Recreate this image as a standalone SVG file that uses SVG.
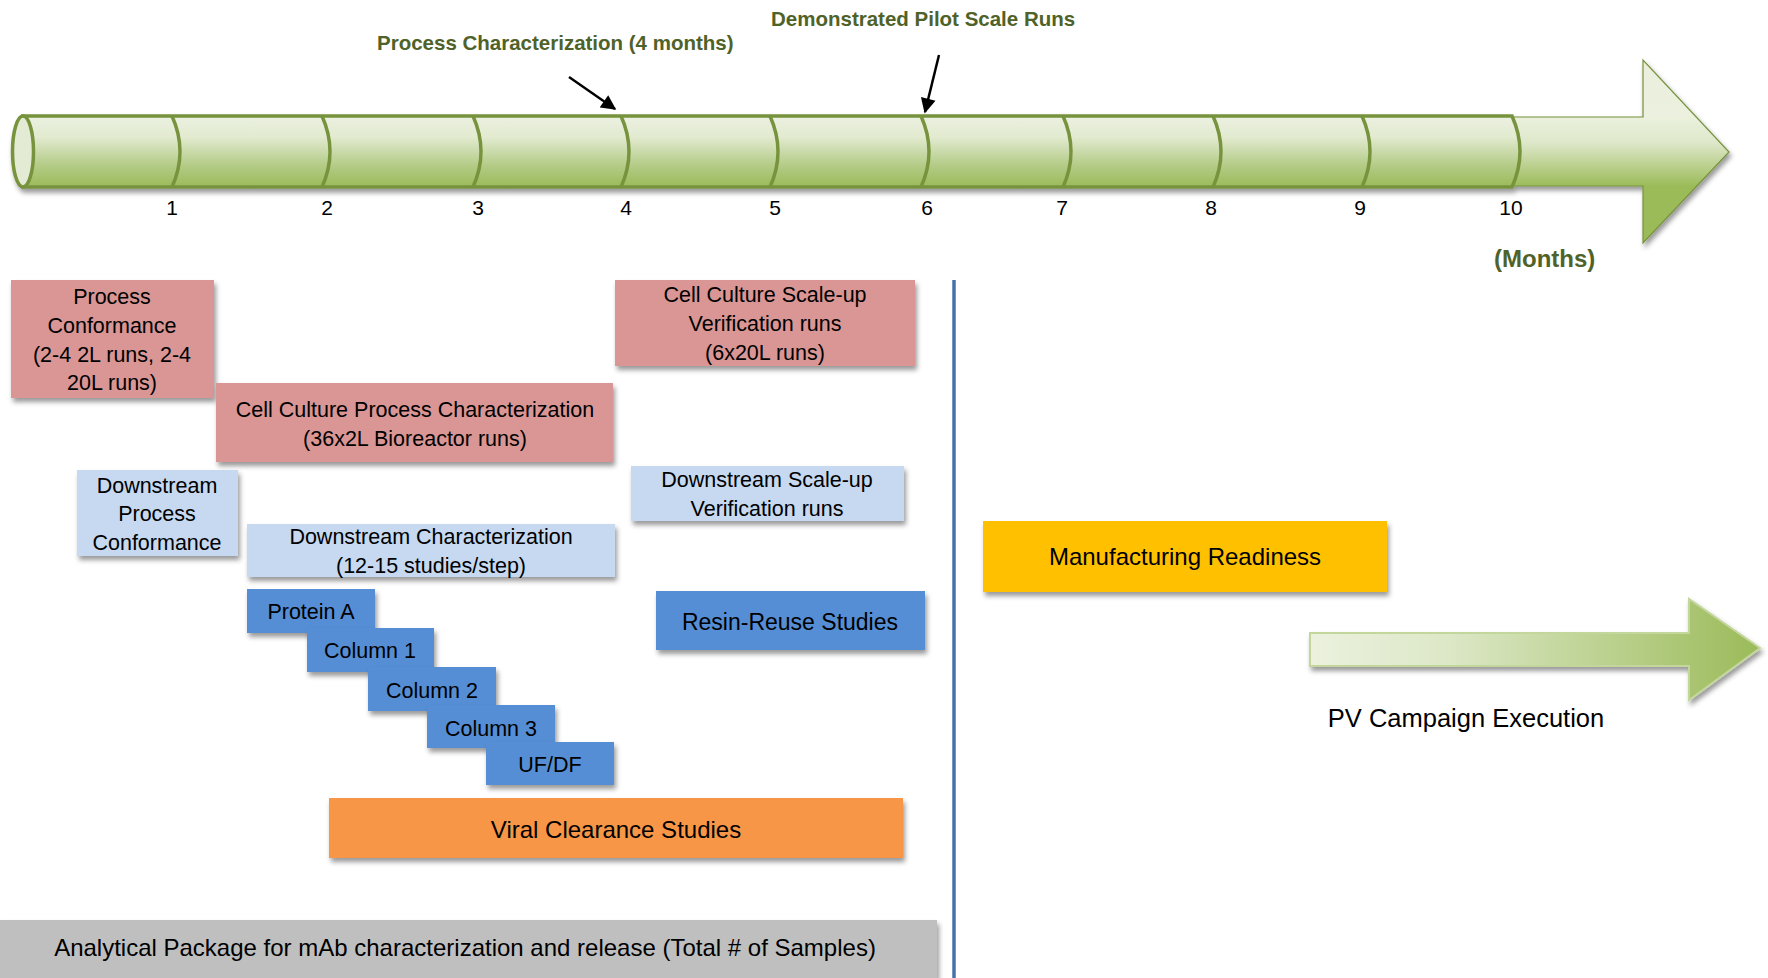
<svg xmlns="http://www.w3.org/2000/svg" width="1768" height="978" viewBox="0 0 1768 978">
<defs>
<style>
.t{font-family:"Liberation Sans",Arial,sans-serif;fill:#000;text-anchor:middle}
.s{font-size:21.5px}
.l{font-size:24px}
.g{font-family:"Liberation Sans",Arial,sans-serif;font-weight:bold;fill:#4F6228}
.tick{font-family:"Liberation Sans",Arial,sans-serif;font-size:21px;fill:#000;text-anchor:middle}
.pink{fill:#d99694}
.lb{fill:#c6d9f1}
.bl{fill:#558ed5}
.seam{fill:none;stroke:#77933c;stroke-width:3.5}
</style>
<linearGradient id="pipe" x1="0" y1="116" x2="0" y2="187" gradientUnits="userSpaceOnUse">
<stop offset="0" stop-color="#ecf1e2"/>
<stop offset="0.3" stop-color="#e2eacf"/>
<stop offset="0.7" stop-color="#b3cb86"/>
<stop offset="1" stop-color="#9bbb59"/>
</linearGradient>
<linearGradient id="arr" x1="0" y1="60" x2="0" y2="243" gradientUnits="userSpaceOnUse">
<stop offset="0" stop-color="#e9efdc"/>
<stop offset="0.31" stop-color="#ebf1de"/>
<stop offset="0.45" stop-color="#dfe8cb"/>
<stop offset="0.69" stop-color="#9bbb59"/>
<stop offset="1" stop-color="#9bbb59"/>
</linearGradient>
<linearGradient id="pv" x1="1310" y1="0" x2="1760" y2="0" gradientUnits="userSpaceOnUse">
<stop offset="0" stop-color="#ebf1de"/>
<stop offset="0.3" stop-color="#dde8c8"/>
<stop offset="1" stop-color="#9bbb59"/>
</linearGradient>
<filter id="sh" x="-10%" y="-20%" width="130%" height="160%">
<feDropShadow dx="2" dy="4" stdDeviation="2.5" flood-color="#000" flood-opacity="0.4"/>
</filter>
<marker id="ah" viewBox="0 0 10 10" refX="9" refY="5" markerWidth="6.5" markerHeight="6" orient="auto" markerUnits="strokeWidth">
<path d="M0,0 L10,5 L0,10 Z" fill="#000"/>
</marker>
</defs>
<rect width="1768" height="978" fill="#fff"/>

<g id="timeline" filter="url(#sh)">
<path d="M1400,117 H1643 V60 L1729,152 L1643,243 V186 H1400 Z" fill="url(#arr)" stroke="#76923c" stroke-width="1.2"/>
<path d="M23,116 H1512 Q1528,151.5 1512,187 H23 Z" fill="url(#pipe)" stroke="#77933c" stroke-width="3.5"/>
<ellipse cx="23" cy="151.5" rx="10.5" ry="35.5" fill="#e4ebd5" stroke="#77933c" stroke-width="3.5"/>
<path class="seam" d="M172,116 Q188,151.5 172,187"/>
<path class="seam" d="M322,116 Q338,151.5 322,187"/>
<path class="seam" d="M473,116 Q489,151.5 473,187"/>
<path class="seam" d="M621,116 Q637,151.5 621,187"/>
<path class="seam" d="M770,116 Q786,151.5 770,187"/>
<path class="seam" d="M921,116 Q937,151.5 921,187"/>
<path class="seam" d="M1063,116 Q1079,151.5 1063,187"/>
<path class="seam" d="M1213,116 Q1229,151.5 1213,187"/>
<path class="seam" d="M1362,116 Q1378,151.5 1362,187"/>
</g>

<g id="ticks">
<text class="tick" x="172" y="215">1</text>
<text class="tick" x="327" y="215">2</text>
<text class="tick" x="478" y="215">3</text>
<text class="tick" x="626" y="215">4</text>
<text class="tick" x="775" y="215">5</text>
<text class="tick" x="927" y="215">6</text>
<text class="tick" x="1062" y="215">7</text>
<text class="tick" x="1211" y="215">8</text>
<text class="tick" x="1360" y="215">9</text>
<text class="tick" x="1511" y="215">10</text>
</g>

<g id="labels">
<text class="g" x="377" y="50" font-size="20.5">Process Characterization (4 months)</text>
<text class="g" x="771" y="26" font-size="20.5">Demonstrated Pilot Scale Runs</text>
<text class="g" x="1494" y="267" font-size="24">(Months)</text>
</g>

<g id="connectors">
<line x1="569" y1="77" x2="615" y2="109" stroke="#000" stroke-width="2.5" marker-end="url(#ah)"/>
<line x1="939" y1="55" x2="925" y2="112" stroke="#000" stroke-width="2.5" marker-end="url(#ah)"/>
</g>

<g id="divider">
<line x1="954" y1="280" x2="954" y2="978" stroke="#4672aa" stroke-width="3.5"/>
</g>

<g id="process-conformance">
<rect class="pink" x="11" y="280" width="203" height="118" filter="url(#sh)"/>
<text class="t s" x="112" y="304">Process</text>
<text class="t s" x="112" y="333">Conformance</text>
<text class="t s" x="112" y="362">(2-4 2L runs, 2-4</text>
<text class="t s" x="112" y="390">20L runs)</text>
</g>

<g id="cc-process-char">
<rect class="pink" x="216" y="383" width="397" height="79" filter="url(#sh)"/>
<text class="t s" x="415" y="417">Cell Culture Process Characterization</text>
<text class="t s" x="415" y="446">(36x2L Bioreactor runs)</text>
</g>

<g id="cc-scaleup">
<rect class="pink" x="615" y="280" width="300" height="86" filter="url(#sh)"/>
<text class="t s" x="765" y="302">Cell Culture Scale-up</text>
<text class="t s" x="765" y="331">Verification runs</text>
<text class="t s" x="765" y="360">(6x20L runs)</text>
</g>

<g id="ds-process-conformance">
<rect class="lb" x="77" y="470" width="161" height="86" filter="url(#sh)"/>
<text class="t s" x="157" y="493">Downstream</text>
<text class="t s" x="157" y="521">Process</text>
<text class="t s" x="157" y="550">Conformance</text>
</g>

<g id="ds-char">
<rect class="lb" x="247" y="524" width="368" height="53" filter="url(#sh)"/>
<text class="t s" x="431" y="544">Downstream Characterization</text>
<text class="t s" x="431" y="573">(12-15 studies/step)</text>
</g>

<g id="ds-scaleup">
<rect class="lb" x="631" y="466" width="273" height="55" filter="url(#sh)"/>
<text class="t s" x="767" y="487">Downstream Scale-up</text>
<text class="t s" x="767" y="516">Verification runs</text>
</g>

<g id="resin-reuse">
<rect class="bl" x="656" y="591" width="269" height="59" filter="url(#sh)"/>
<text class="t" x="790" y="630" font-size="23">Resin-Reuse Studies</text>
</g>

<g id="protein-a">
<rect class="bl" x="247" y="589" width="128" height="44" filter="url(#sh)"/>
<text class="t s" x="311" y="619">Protein A</text>
</g>
<g id="column-1">
<rect class="bl" x="307" y="628" width="127" height="44" filter="url(#sh)"/>
<text class="t s" x="370" y="658">Column 1</text>
</g>
<g id="column-2">
<rect class="bl" x="368" y="667" width="128" height="44" filter="url(#sh)"/>
<text class="t s" x="432" y="698">Column 2</text>
</g>
<g id="column-3">
<rect class="bl" x="427" y="705" width="128" height="43" filter="url(#sh)"/>
<text class="t s" x="491" y="736">Column 3</text>
</g>
<g id="ufdf">
<rect class="bl" x="486" y="742" width="128" height="43" filter="url(#sh)"/>
<text class="t s" x="550" y="772">UF/DF</text>
</g>

<g id="viral-clearance">
<rect x="329" y="798" width="574" height="60" fill="#f79646" filter="url(#sh)"/>
<text class="t l" x="616" y="838">Viral Clearance Studies</text>
</g>

<g id="analytical">
<rect x="0" y="920" width="937" height="58" fill="#bfbfbf" filter="url(#sh)"/>
<text class="t l" x="465" y="956">Analytical Package for mAb characterization and release (Total # of Samples)</text>
</g>

<g id="mfg-readiness">
<rect x="983" y="521" width="404" height="71" fill="#ffc000" filter="url(#sh)"/>
<text class="t l" x="1185" y="565">Manufacturing Readiness</text>
</g>

<g id="pv-campaign">
<path d="M1310,633 H1689 V599 L1760,648 L1689,700 V666 H1310 Z" fill="url(#pv)" stroke="#c3d69b" stroke-width="2" filter="url(#sh)"/>
<text class="t" x="1466" y="727" font-size="25.5">PV Campaign Execution</text>
</g>
</svg>
